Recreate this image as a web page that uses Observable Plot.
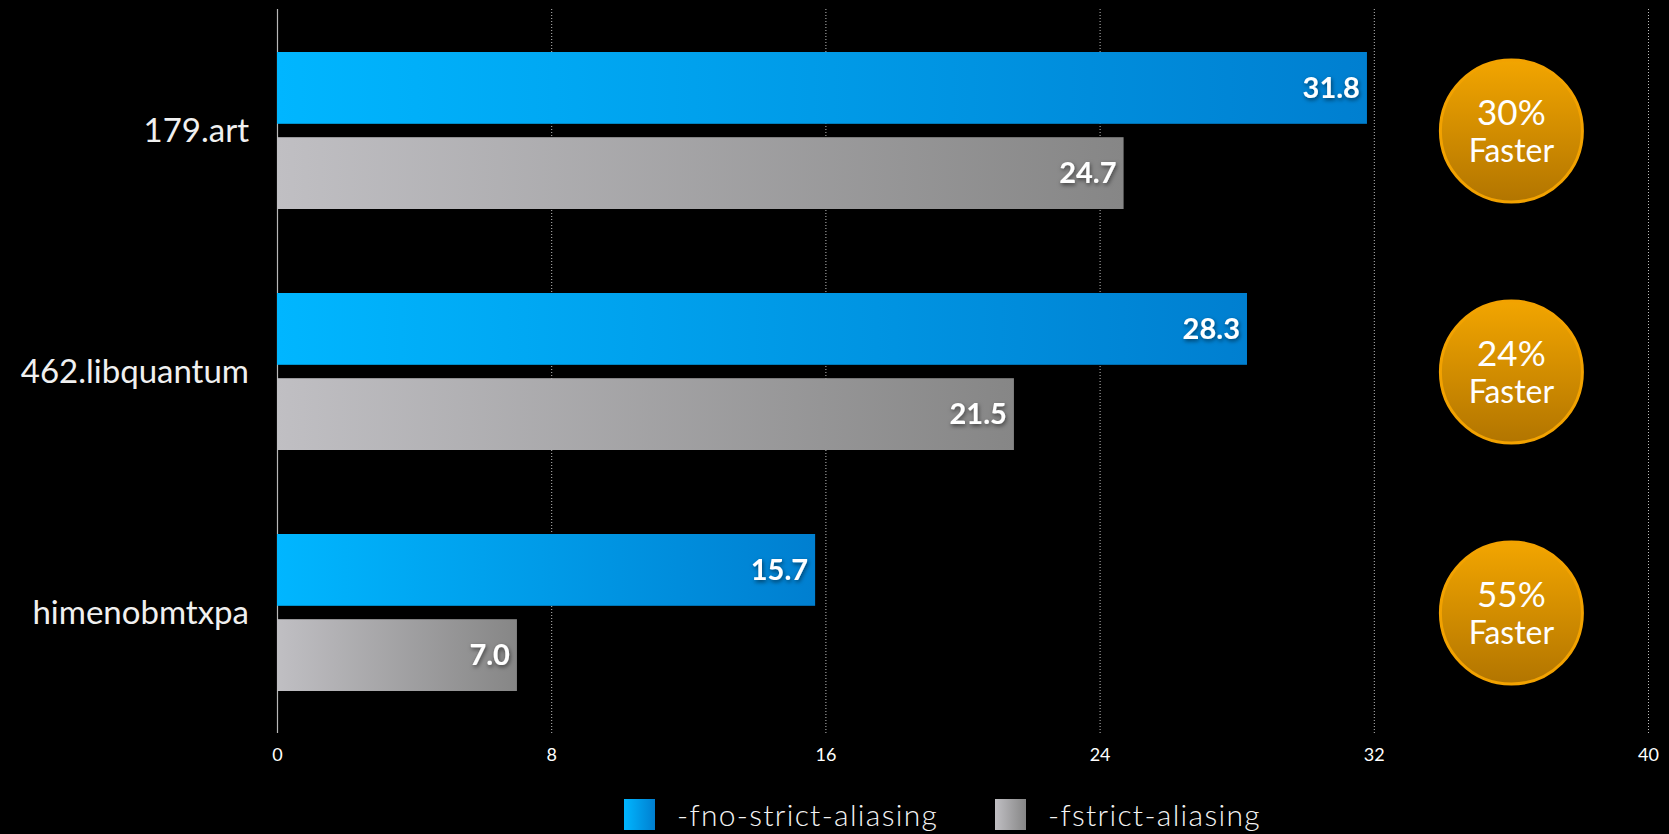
<!DOCTYPE html>
<html>
<head>
<meta charset="utf-8">
<script src="https://cdn.jsdelivr.net/npm/d3@7"></script>
<script src="https://cdn.jsdelivr.net/npm/@observablehq/plot@0.6"></script>
<style>
  html, body { margin: 0; padding: 0; background: #000; }
  #chart svg { display: block; }
  .legend { position: relative; height: 44px; font-family: Lato, "Noto Sans", sans-serif; color: #f4f4f4; }
  .legend .item { position: absolute; top: 9px; display: flex; align-items: center; height: 31px; }
  .legend .sw { width: 31px; height: 31px; margin-right: 22px; }
  .legend .lab { font-size: 30px; font-weight: 300; letter-spacing: 1.3px; line-height: 31px; }
</style>
</head>
<body>
<div id="chart"></div>
<script>
const benchmarks = ["179.art", "462.libquantum", "himenobmtxpa"];
const noStrict = [31.8, 28.3, 15.7];
const strict = [24.7, 21.5, 7.0];
const speedup = ["30%", "24%", "55%"];
const badgeWord = "Faster";
const xTicks = [0, 8, 16, 24, 32, 40];
const seriesNames = ["-fno-strict-aliasing", "-fstrict-aliasing"];

const blueRows = benchmarks.map((b, i) => ({bench: b, value: noStrict[i]}));
const grayRows = benchmarks.map((b, i) => ({bench: b, value: strict[i]}));
const badgeRows = benchmarks.map((b, i) => ({bench: b, x: 36, pct: speedup[i]}));
const fmt = d3.format(".1f");

const plot = Plot.plot({
  width: 1669,
  height: 790,
  marginLeft: 277,
  marginRight: 21,
  marginTop: 9,
  marginBottom: 57,
  style: {background: "#000", color: "#fff", fontFamily: "Lato, 'Noto Sans', sans-serif"},
  x: {domain: [0, 40], ticks: xTicks, label: null},
  y: {domain: benchmarks, paddingInner: 0.3505, paddingOuter: 0.1767, label: null},
  marks: [
    Plot.ruleX(xTicks.filter(d => d > 0), {stroke: "#bdbdbd", strokeDasharray: "1,2", strokeWidth: 1}),
    Plot.ruleX([0], {stroke: "#b8b8b8", strokeWidth: 1.2}),
    Plot.barX(blueRows, {x: "value", y: "bench", fill: "url(#gBlue)", insetBottom: 85.2}),
    Plot.barX(grayRows, {x: "value", y: "bench", fill: "url(#gGray)", insetTop: 85.2}),
    Plot.text(blueRows, {x: "value", y: "bench", text: d => fmt(d.value), textAnchor: "end", dx: -7.5, dy: -42.6, fill: "#fff", fontSize: 29, fontWeight: "bold"}),
    Plot.text(grayRows, {x: "value", y: "bench", text: d => fmt(d.value), textAnchor: "end", dx: -7.5, dy: 43, fill: "#fff", fontSize: 29, fontWeight: "bold"}),
    Plot.dot(badgeRows, {x: "x", y: "bench", r: 71, fill: "url(#gOrange)", stroke: "#f2a200", strokeWidth: 3}),
    Plot.text(badgeRows, {x: "x", y: "bench", text: "pct", fill: "#fff", fontSize: 35, dy: -17.6}),
    Plot.text(badgeRows, {x: "x", y: "bench", text: () => badgeWord, fill: "#fff", fontSize: 32, dy: 20.8}),
    Plot.axisX({ticks: xTicks, tickSize: 0, tickPadding: 15, fontSize: 18, fill: "#fff", label: null}),
    Plot.axisY({tickSize: 0, tickPadding: 28.5, fontSize: 33, fill: "#f0f0f0", label: null})
  ]
});

const svg = d3.select(plot);
const defs = svg.insert("defs", ":first-child");
const lg = (id, stops, vertical) => {
  const g = defs.append("linearGradient").attr("id", id)
    .attr("x1", 0).attr("y1", 0).attr("x2", vertical ? 0 : 1).attr("y2", vertical ? 1 : 0);
  stops.forEach(([o, c]) => g.append("stop").attr("offset", o).attr("stop-color", c));
};
lg("gBlue", [[0, "#00b6ff"], [1, "#007fd0"]], false);
lg("gGray", [[0, "#c0bfc3"], [1, "#868686"]], false);
lg("gOrange", [[0, "#f2a500"], [1, "#b27500"]], true);
const f = defs.append("filter").attr("id", "shadow").attr("x", "-20%").attr("y", "-30%").attr("width", "140%").attr("height", "160%");
f.append("feDropShadow").attr("dx", 1).attr("dy", 2).attr("stdDeviation", 2).attr("flood-color", "#000").attr("flood-opacity", 0.55);
svg.selectAll("text").filter(function() { return /^\d+\.\d$/.test(this.textContent); }).attr("filter", "url(#shadow)");

document.getElementById("chart").appendChild(plot);

const legend = document.createElement("div");
legend.className = "legend";
const legendFills = ["linear-gradient(to right, #00b6ff, #007fd0)", "linear-gradient(to right, #c0bfc3, #868686)"];
const legendLeft = [624, 995];
seriesNames.forEach((name, i) => {
  const item = document.createElement("div");
  item.className = "item";
  item.style.left = legendLeft[i] + "px";
  const sw = document.createElement("div");
  sw.className = "sw";
  sw.style.background = legendFills[i];
  const lab = document.createElement("span");
  lab.className = "lab";
  lab.textContent = name;
  item.appendChild(sw);
  item.appendChild(lab);
  legend.appendChild(item);
});
document.body.appendChild(legend);
</script>
</body>
</html>
